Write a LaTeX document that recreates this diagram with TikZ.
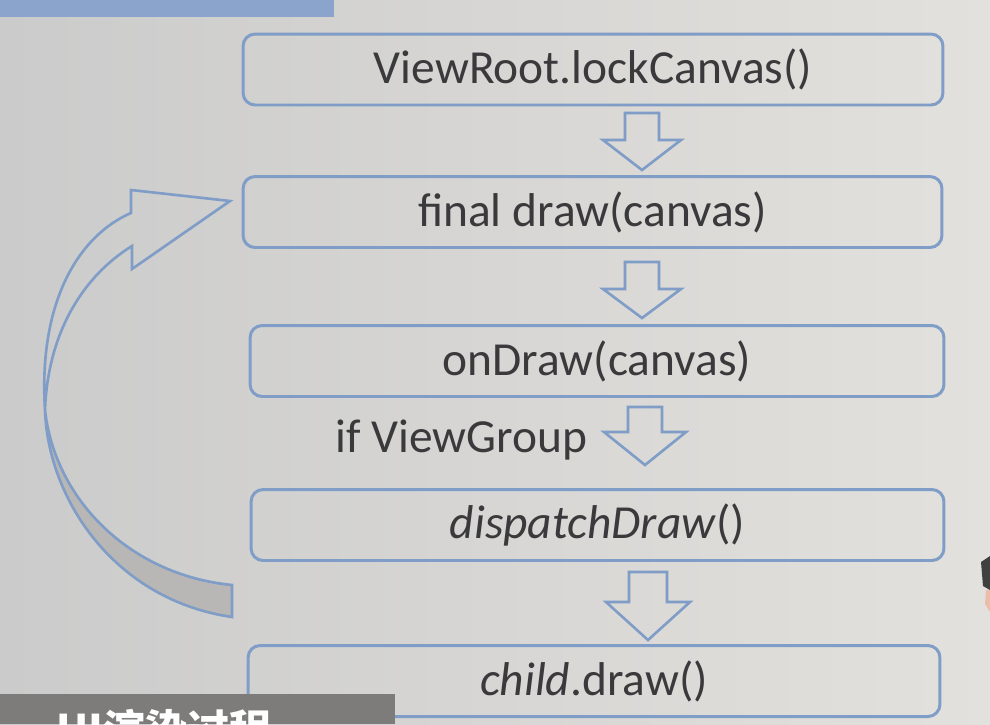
\documentclass[tikz,border=0pt]{standalone}
\usepackage{fontspec}
\setmainfont{Carlito}
\newfontfamily\cjkfont{Noto Sans CJK SC}

\definecolor{slideblue}{RGB}{127,157,199}
\definecolor{slidetext}{RGB}{58,58,60}
\definecolor{barblue}{RGB}{138,164,203}
\definecolor{backgray}{RGB}{185,183,181}
\definecolor{capgray}{RGB}{126,124,122}

\begin{document}
\begin{tikzpicture}[x=0.02cm,y=-0.02cm,
    callbox/.style={draw=slideblue,line width=1.7pt,rounded corners=0.24cm,
        minimum height=1.42cm,text=slidetext,font=\fontsize{27}{32}\selectfont},
    arrowline/.style={draw=slideblue,line width=1.5pt,line join=miter},
    pics/hollowdown/.style n args={4}{code={
        \draw[arrowline] (-#1,0) -- (#1,0) -- (#1,#3) -- (#2,#3) -- (0,#4)
            -- (-#2,#3) -- (-#1,#3) -- cycle;}}
]
    \useasboundingbox (0,0) rectangle (990,724);
    \shade[left color={rgb,255:red,203;green,203;blue,203},right color={rgb,255:red,227;green,225;blue,221}]
        (0,0) rectangle (990,724);
    \fill[barblue] (0,0) rectangle (334,17);

    % call chain
    \node[callbox,minimum width=14cm] (lock) at (593,69.5) {ViewRoot.lockCanvas()};
    \node[callbox,minimum width=13.98cm] (fdraw) at (592.5,212) {final draw(canvas)};
    \node[callbox,minimum width=13.88cm] (ondraw) at (597,361) {onDraw(canvas)};
    \node[callbox,minimum width=13.86cm] (dispatch) at (597.5,525) {\textit{dispatchDraw}()};
    \node[callbox,minimum width=13.84cm] (child) at (594,681) {\textit{child}.draw()};

    \node[text=slidetext,font=\fontsize{27}{32}\selectfont,anchor=west,inner sep=0pt]
        (ifgroup) at (335,440) {if ViewGroup};

    \pic at (642,113) {hollowdown={17}{39}{27}{57}};
    \pic at (642,262) {hollowdown={17}{39}{27}{56}};
    \pic at (645,407) {hollowdown={17}{41}{25}{58}};
    \pic at (648,572) {hollowdown={19}{42}{30}{68}};

    % loop back arrow
    \draw[arrowline,fill=backgray] (45,410) .. controls (48,500) and (115,600) .. (232,617)
        -- (232,585) .. controls (130,575) and (55,500) .. (45,410);
    \draw[arrowline] (45,410) .. controls (38,300) and (80,235) .. (131,213)
        -- (131,190) -- (230,201) -- (132,269) -- (132,246)
        .. controls (85,275) and (48,330) .. (45,410);

    % caption
    \fill[capgray] (0,694) rectangle (395,724);
    \begin{scope}
        \clip (0,694) rectangle (395,724);
        \node[anchor=north west,inner sep=0pt,text=white,font=\cjkfont\bfseries\fontsize{24}{28}\selectfont]
            (caption) at (56,709) {UI渲染过程};
    \end{scope}

    \fill[black!75] (981,562) -- (990,556) -- (990,590) -- (983,586) -- cycle;
    \fill[red!30!brown!40] (986,590) -- (990,590) -- (990,612) -- (985,604) -- cycle;
\end{tikzpicture}
\end{document}
